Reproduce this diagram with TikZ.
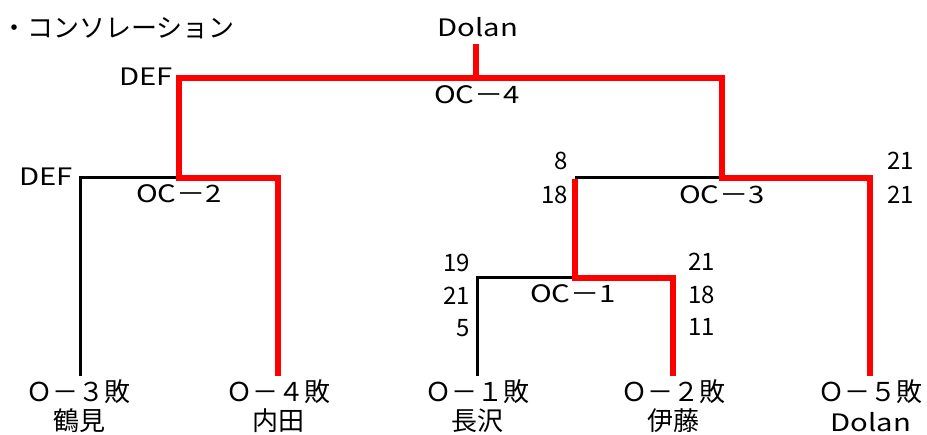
\documentclass[tikz,border=0pt]{standalone}
\usepackage{fontspec}
\setmainfont{Noto Sans CJK JP}
\newfontfamily\widelatin[FakeStretch=1.22]{Noto Sans CJK JP}
\begin{document}
\begin{tikzpicture}[x=1pt,y=-1pt,
  cjk/.style={font=\fontsize{26}{28}\selectfont, inner sep=0pt},
  lat/.style={font=\widelatin\fontsize{24}{26}\selectfont, inner sep=0pt},
  num/.style={font=\fontsize{24}{26}\selectfont, inner sep=0pt},
  win/.style={draw=red, line width=5.5pt, line join=miter},
  lose/.style={draw=black, line width=3pt, line join=miter}]
\useasboundingbox[fill=white] (0,0) rectangle (927,435);
% title
\node[cjk, anchor=west] (title) at (1,28) {・コンソレーション};
\node[lat] (champ) at (478,27) {Dolan};
% bottom entries
\node[cjk] (p3) at (79,392) {Ｏ－３敗};
\node[cjk] (n3) at (79,421) {鶴見};
\node[cjk] (p4) at (278,392) {Ｏ－４敗};
\node[cjk] (n4) at (278,421) {内田};
\node[cjk] (p1) at (477,392) {Ｏ－１敗};
\node[cjk] (n1) at (477,421) {長沢};
\node[cjk] (p2) at (673,392) {Ｏ－２敗};
\node[cjk] (n2) at (673,421) {伊藤};
\node[cjk] (p5) at (870,392) {Ｏ－５敗};
\node[lat] (n5) at (871,422) {Dolan};
% coordinates
\coordinate (a3) at (80,376);
\coordinate (a4) at (278,376);
\coordinate (a1) at (477,376);
\coordinate (a2) at (673,376);
\coordinate (a5) at (870,376);
\coordinate (m1L) at (477,278);
\coordinate (m1) at (575,278);
\coordinate (m1R) at (673,278);
\coordinate (m2L) at (80,178);
\coordinate (m2) at (179,178);
\coordinate (m2R) at (278,178);
\coordinate (m3L) at (575,178);
\coordinate (m3) at (722,178);
\coordinate (m3R) at (870,178);
\coordinate (m4L) at (179,78);
\coordinate (m4) at (476,78);
\coordinate (m4R) at (722,78);
\coordinate (top) at (476,44);
% losing lines
\draw[lose] (a3) -- (m2L) -- (m2);
\draw[lose] (a1) -- (m1L) -- (m1);
\draw[lose] (m3L) -- (m3);
\draw[lose] (m4L) -- (m4);
% winning lines
\draw[win] (a4) -- (m2R) -- (m2) -- (m4L) -- (m4) -- (top);
\draw[win] (a2) -- (m1R) -- (m1) -- ([yshift=-1.5pt]m3L);
\draw[win] (a5) -- (m3R) -- (m3) -- (m4R) -- (m4);
% match labels
\node[lat] (oc1) at (573,294) {OC－1};
\node[lat] (oc2) at (179,194) {OC－2};
\node[lat] (oc3) at (722,195) {OC－3};
\node[lat] (oc4) at (477,95) {OC－4};
\node[lat, anchor=east] (def1) at (173,77) {DEF};
\node[lat, anchor=east] (def2) at (73,177) {DEF};
% scores
\node[num, anchor=east] (s1a) at (470,263) {19};
\node[num, anchor=east] (s1b) at (470,296) {21};
\node[num, anchor=east] (s1c) at (470,328) {5};
\node[num, anchor=west] (s2a) at (688,262) {21};
\node[num, anchor=west] (s2b) at (688,295) {18};
\node[num, anchor=west] (s2c) at (688,327) {11};
\node[num, anchor=east] (s3a) at (568,161) {8};
\node[num, anchor=east] (s3b) at (568,195) {18};
\node[num, anchor=west] (s5a) at (887,161) {21};
\node[num, anchor=west] (s5b) at (887,195) {21};
\end{tikzpicture}
\end{document}
